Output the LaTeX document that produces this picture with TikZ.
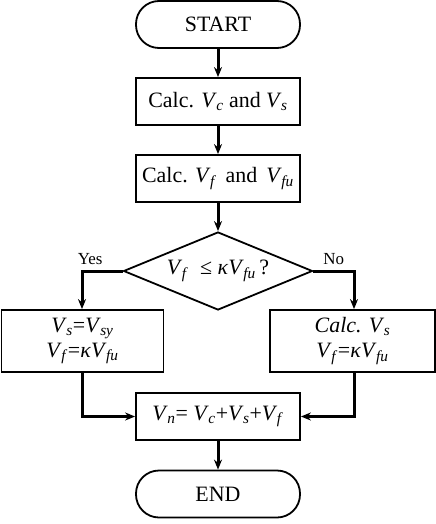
\documentclass[tikz,border=0pt]{standalone}
\usepackage{fontspec}
\setmainfont{Liberation Serif}
\usepackage{tikz}
\usetikzlibrary{shapes.geometric, arrows.meta}

\newcommand{\Vv}[1]{\textit{V}\kern-0.5bp\textsubscript{\textit{#1}}}

\begin{document}
\begin{tikzpicture}[x=1bp, y=-1bp,
    font=\fontsize{22}{25}\selectfont,
    terminal/.style={draw, line width=1.8bp, rounded corners=23bp, minimum width=164bp, minimum height=47bp},
    process/.style={draw, line width=1.8bp, minimum width=164bp, minimum height=47bp, align=center},
    decision/.style={draw, diamond, line width=1.8bp, inner sep=0pt, shape aspect=2.4, minimum width=189bp, minimum height=78bp},
    flow/.style={line width=3bp, -{Stealth[length=10bp, width=8bp]}},
    answer/.style={above, yshift=2bp, font=\fontsize{17}{19}\selectfont}]
  \useasboundingbox (0,0) rectangle (436,524);
  \node[terminal] (start) at (218,24.5) {START};
  \node[process] (calcA) at (218,101.5) {Calc. \Vv{c} and \Vv{s}};
  \node[process] (calcB) at (218,178.5) {Calc. \Vv{f}\, and \,\Vv{fu}};
  \node[decision] (check) at (218,271) {\Vv{f}\; ≤ \textit{κ}\Vv{fu}\,?};
  \node[process, minimum width=162bp, minimum height=62bp, inner sep=2bp] (yesbox) at (82.5,341) {\Vv{s}=\Vv{sy}\\\Vv{f}=\textit{κ}\Vv{fu}};
  \node[process, minimum width=165bp, minimum height=62bp, inner sep=2bp] (nobox) at (352.5,341) {\textit{Calc.} \Vv{s}\\\Vv{f}=\textit{κ}\Vv{fu}};
  \node[process] (sum) at (218,416.5) {\Vv{n}= \Vv{c}+\Vv{s}+\Vv{f}};
  \node[terminal] (finish) at (218,494) {END};
  \draw[flow] (start) -- (calcA);
  \draw[flow] (calcA) -- (calcB);
  \draw[flow] (calcB) -- (check);
  \draw[flow] (check.west) -| (yesbox.north -| 82,0) node[pos=0.4, answer] {Yes};
  \draw[flow] (check.east) -| (nobox.north -| 354,0) node[pos=0.25, answer] {No};
  \draw[flow] (yesbox.south -| 82,0) |- (sum.west);
  \draw[flow] (nobox.south -| 354,0) |- (sum.east);
  \draw[flow] (sum) -- (finish);
\end{tikzpicture}
\end{document}
